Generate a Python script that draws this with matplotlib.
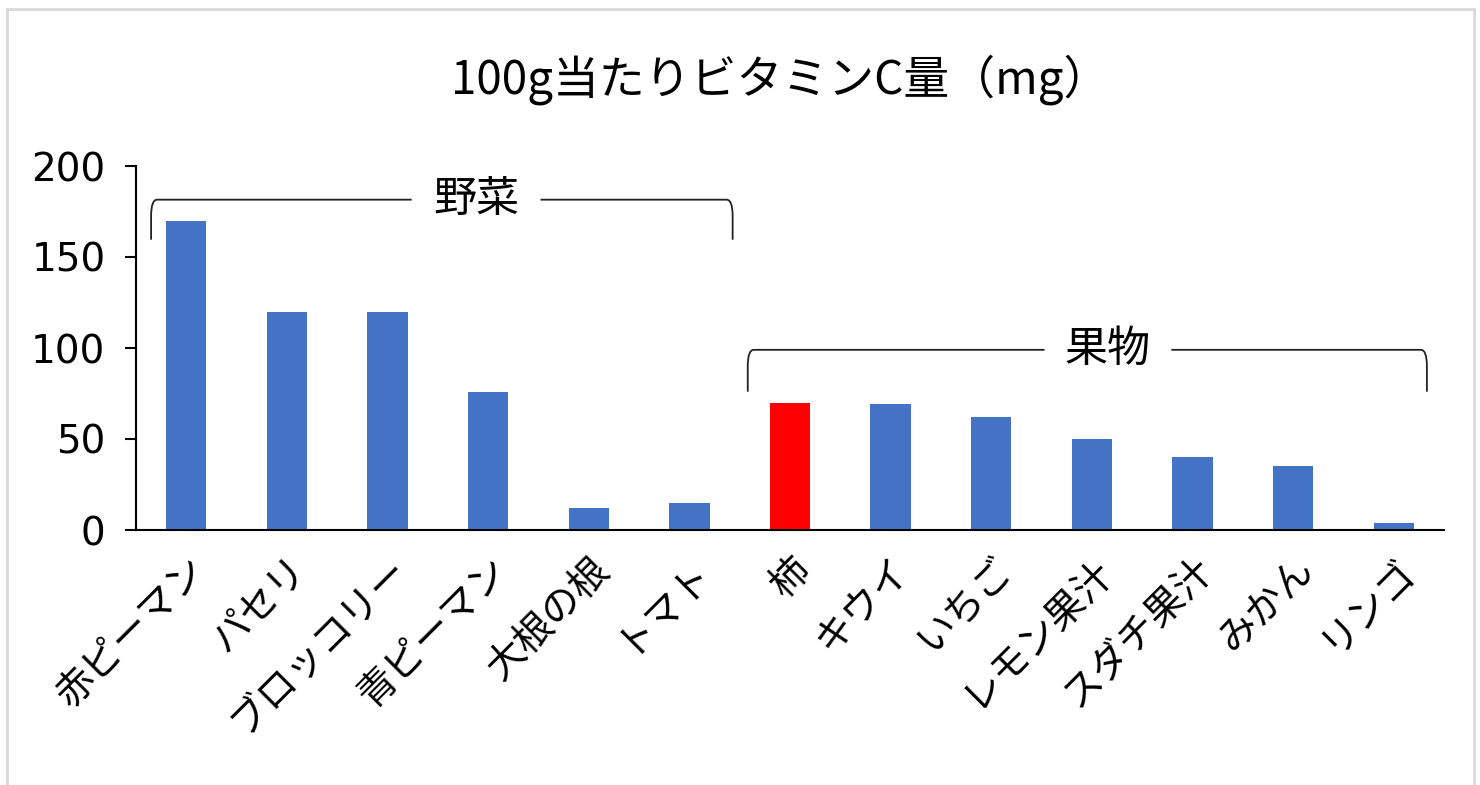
import matplotlib
matplotlib.use("Agg")
import matplotlib.pyplot as plt
from matplotlib.path import Path
from matplotlib.patches import PathPatch, Rectangle

plt.rcParams['font.family'] = ['Noto Sans CJK JP', 'DejaVu Sans']

# データ
items = ['赤ピーマン', 'パセリ', 'ブロッコリー', '青ピーマン', '大根の根', 'トマト',
         '柿', 'キウイ', 'いちご', 'レモン果汁', 'スダチ果汁', 'みかん', 'リンゴ']
vitamin_c = [170, 120, 120, 76, 12, 15, 70, 69, 62, 50, 40, 35, 4]
highlight = '柿'
groups = ['野菜', '果物']

blue = '#4472c4'
red = '#ff0000'
colors = [red if name == highlight else blue for name in items]

fig = plt.figure(figsize=(14.8, 7.85), dpi=100)
ax = fig.add_axes([136 / 1480, 1 - 530 / 785, (1444 - 136) / 1480, (530 - 166) / 785])

x = range(len(items))
ax.bar(x, vitamin_c, width=0.4, color=colors)

ax.set_xlim(-0.5, len(items) - 0.5)
ax.set_ylim(0, 200)
ax.set_yticks([0, 50, 100, 150, 200])
ax.set_xticks(list(x))
ax.set_xticklabels(items, rotation=45, ha='right', rotation_mode='anchor', fontsize=28)
ax.tick_params(axis='x', length=0, pad=14)
ax.tick_params(axis='y', length=8, width=1.5, pad=14)
for lbl in ax.get_yticklabels():
    lbl.set_fontfamily('DejaVu Sans')
    lbl.set_fontsize(28)
for s in ['top', 'right']:
    ax.spines[s].set_visible(False)
ax.spines['left'].set_linewidth(1.5)
ax.spines['bottom'].set_linewidth(1.5)

fig.text(780 / 1480, 1 - 80 / 785, '100g当たりビタミンC量（mg）', fontsize=33,
         ha='center', va='center')


# 中かっこ（角丸の線）
def bracket(x0, x1, ytop, ybot, gap0, gap1, label):
    rx, ry = 0.06, 9
    left = [(x0, ybot), (x0, ytop - ry), (x0, ytop), (x0 + rx, ytop), (gap0, ytop)]
    right = [(gap1, ytop), (x1 - rx, ytop), (x1, ytop), (x1, ytop - ry), (x1, ybot)]
    codes = [Path.MOVETO, Path.LINETO, Path.CURVE3, Path.CURVE3, Path.LINETO]
    for pts in (left, right):
        ax.add_patch(PathPatch(Path(pts, codes), fill=False, lw=1.3,
                               edgecolor='#222222', clip_on=False))
    ax.text((gap0 + gap1) / 2, ytop, label, fontsize=31, ha='center', va='center')


bracket(-0.35, 5.43, 181.5, 159.5, 2.24, 3.52, groups[0])
bracket(5.58, 12.33, 99, 76, 8.53, 9.79, groups[1])

# 枠線
fig.patches.append(Rectangle((7 / 1480, -0.05), (1474 - 7) / 1480, 1.05 - 9 / 785,
                             transform=fig.transFigure, fill=False,
                             edgecolor='#d9d9d9', lw=2))

fig.savefig('out.png', dpi=100)
